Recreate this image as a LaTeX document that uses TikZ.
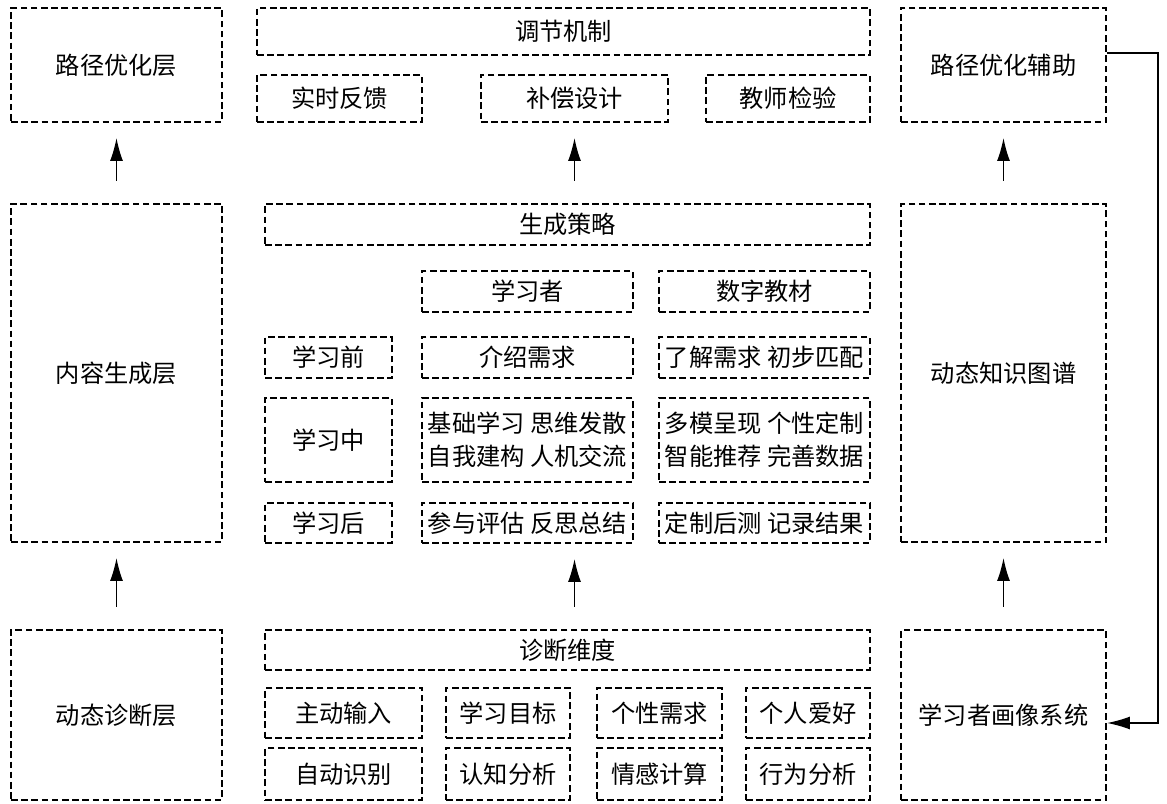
\documentclass[tikz,border=0pt]{standalone}
\usepackage{fontspec}
\setmainfont{Noto Sans CJK SC}
\usetikzlibrary{arrows.meta,positioning}

% dashed panel from corner (x1,y1) to corner (x2,y2)
\newcommand{\drawpanel}[6]{%
  \node[dashed box, minimum width={(#4-#2)*0.02cm}, minimum height={(#5-#3)*0.02cm}]
    (#1) at ({(#2+#4)/2},{(#3+#5)/2}) {#6};}

\begin{document}
\begin{tikzpicture}
    [x=0.02cm, y=-0.02cm,
    % Styles
    dashed box/.style={draw, line width=1.1pt, dash pattern=on 3.8pt off 2pt,
      inner sep=0pt, align=center, font=\fontsize{13.8}{18.8}\selectfont},
    up arrow/.style={-{Latex[length=4.6mm,width=2.6mm]}, line width=0.8pt,
      shorten <=0.45cm, shorten >=0.3cm},
    back arrow/.style={-{Latex[length=4.6mm,width=2.6mm]}, line width=0.8pt}]

    % Page
    \useasboundingbox (0,0) rectangle (1167,804);

    % Left column: layers
    \drawpanel{pathlayer}{11}{8}{222}{122}{路径优化层}
    \drawpanel{contentlayer}{11}{204}{222}{542}{内容生成层}
    \drawpanel{diaglayer}{11}{630}{222}{800}{动态诊断层}

    % Right column: support
    \drawpanel{pathaux}{901}{8}{1106}{122}{路径优化辅助}
    \drawpanel{knowledge}{901}{204}{1106}{542}{动态知识图谱}
    \drawpanel{portrait}{901}{630}{1106}{800}{学习者画像系统}

    % Middle: regulation
    \drawpanel{regulate}{257}{8}{870}{55}{调节机制}
    \drawpanel{feedback}{257}{75}{422}{122}{实时反馈}
    \drawpanel{compensate}{481}{75}{668}{122}{补偿设计}
    \drawpanel{teachercheck}{706}{75}{870}{122}{教师检验}

    % Middle: generation strategy
    \drawpanel{strategy}{265}{204}{870}{245}{生成策略}
    \drawpanel{learner}{422}{271}{633}{312}{学习者}
    \drawpanel{textbook}{659}{271}{870}{312}{数字教材}

    \drawpanel{before}{265}{337}{392}{378}{学习前}
    \drawpanel{beforeL}{422}{337}{633}{378}{介绍需求}
    \drawpanel{beforeT}{659}{337}{870}{378}{了解需求 初步匹配}

    \drawpanel{during}{265}{398}{392}{482}{学习中}
    \drawpanel{duringL}{422}{398}{633}{482}{基础学习 思维发散\\自我建构 人机交流}
    \drawpanel{duringT}{659}{398}{870}{482}{多模呈现 个性定制\\智能推荐 完善数据}

    \drawpanel{after}{265}{503}{392}{543}{学习后}
    \drawpanel{afterL}{422}{503}{633}{543}{参与评估 反思总结}
    \drawpanel{afterT}{659}{503}{870}{543}{定制后测 记录结果}

    % Middle: diagnosis dimensions
    \drawpanel{diagdim}{265}{630}{870}{670}{诊断维度}
    \foreach \name/\xa/\xb/\toptext/\bottext in
      {input/265/422/主动输入/自动识别, goal/446/570/学习目标/认知分析,
       need/597/722/个性需求/情感计算, hobby/746/870/个人爱好/行为分析}
    {
      \drawpanel{\name1}{\xa}{688}{\xb}{738}{\toptext}
      \drawpanel{\name2}{\xa}{748}{\xb}{800}{\bottext}
    }

    % Upward arrows
    \draw[up arrow] (diaglayer.north) -- (contentlayer.south);
    \draw[up arrow] (contentlayer.north) -- (pathlayer.south);
    \draw[up arrow] (portrait.north) -- (knowledge.south);
    \draw[up arrow] (knowledge.north) -- (pathaux.south);
    \draw[up arrow] (diagdim.north -| compensate) -- (afterL.south -| compensate);
    \draw[up arrow] (strategy.north -| compensate) -- (compensate.south);

    % Feedback loop
    \draw[back arrow] ([yshift=0.24cm]pathaux.east) -- ++(1.02cm,0)
      |- ([yshift=-0.16cm]portrait.east);
\end{tikzpicture}
\end{document}
